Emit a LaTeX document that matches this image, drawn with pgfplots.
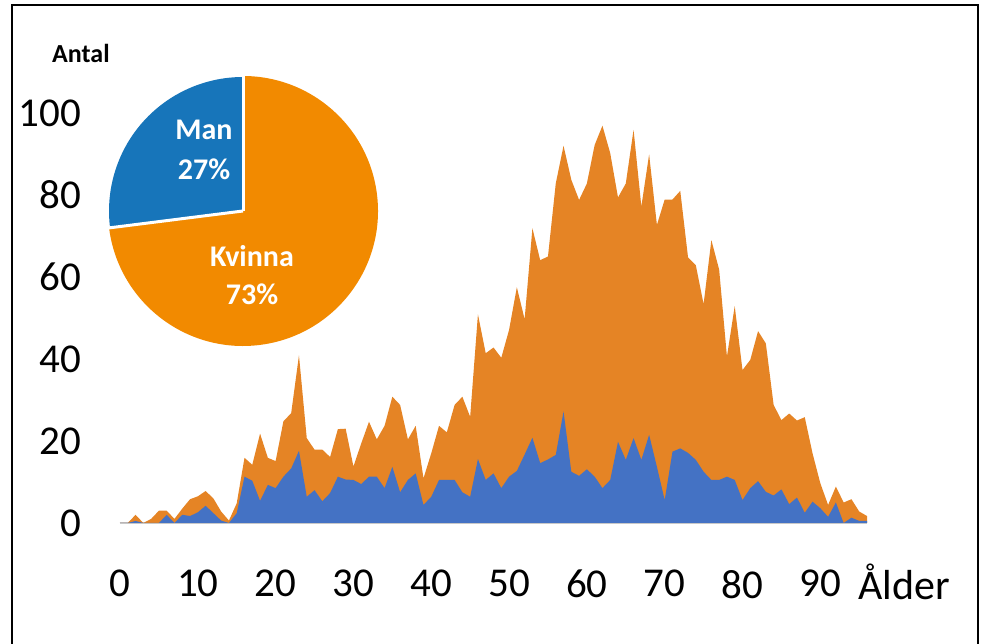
\documentclass[border=0pt]{standalone}
\usepackage{pgfplots}
\pgfplotsset{compat=1.18}
\usepackage{pgfplotstable}
\usepackage{fontspec}
\setmainfont{Carlito}
\definecolor{areaOrange}{RGB}{229,132,37}
\definecolor{areaBlue}{RGB}{68,114,196}
\definecolor{pieOrange}{RGB}{242,138,0}
\definecolor{pieBlue}{RGB}{23,117,186}
\definecolor{axisGray}{RGB}{200,200,200}
\pgfplotstableread{
age man total
0 0 0
1 0 0
2 0.5 2
3 0 0
4 0 1
5 0 3
6 2 3
7 0 1
8 2 3.5
9 1.7 5.8
10 2.6 6.5
11 4.2 7.8
12 2.4 6
13 0.6 2.8
14 0 0.6
15 2.4 4.8
16 11.3 15.9
17 10.3 14.2
18 5.4 21.8
19 9.3 15.9
20 8.5 15.1
21 11.3 24.8
22 13.3 26.8
23 17.6 40.9
24 6.4 20.7
25 8 17.9
26 5.3 17.9
27 7.3 16.1
28 11.3 22.9
29 10.6 23
30 10.5 13.8
31 9.5 19.4
32 11.3 24.7
33 11.3 20.4
34 8.5 23.7
35 13.7 30.8
36 7.5 28.8
37 10.5 20.4
38 12.1 23.7
39 4.4 10.9
40 6.4 17
41 10.5 23.7
42 10.5 22.1
43 10.5 28.8
44 7.5 30.8
45 6.4 25.9
46 15.6 50.9
47 10.5 41.4
48 12.1 42.8
49 8.5 40.3
50 11.3 47.1
51 12.7 57.5
52 16.7 49.7
53 20.8 71.9
54 14.6 64.1
55 15.5 65
56 16.6 82.8
57 27.2 92
58 12.5 83.7
59 11.5 78.8
60 13.1 82.8
61 11.3 92.2
62 8.5 96.9
63 10.5 90.2
64 19.8 79.4
65 15.4 82.8
66 20.7 95.9
67 15.4 77.2
68 21.5 89.9
69 13.7 72.7
70 5.6 78.9
71 17.4 78.9
72 18.2 81
73 17.1 64.8
74 15.4 62.9
75 12.5 53.4
76 10.5 69
77 10.5 61.8
78 11.3 40.6
79 10.5 52.9
80 5.6 37.3
81 8.5 39.8
82 10.2 46.8
83 7.6 43.8
84 6.7 28.8
85 8.2 25.1
86 4.6 26.7
87 6.2 25
88 2.5 25.8
89 5.2 17
90 3.6 9.7
91 1.5 4.4
92 5 8.9
93 0 5
94 1.3 5.8
95 0.5 2.8
96 0.5 1.7
}\agedata
\def\manpct{27}
\def\kvinnapct{73}
\begin{document}
\begin{tikzpicture}[x=1pt,y=1pt]
\useasboundingbox (0,0) rectangle (981,644);
\draw[line width=1.5pt] (12,0) -- (12,639) -- (978,639) -- (978,0);
\begin{axis}[
  at={(120pt,121pt)}, anchor=south west,
  scale only axis, width=747pt, height=410pt,
  xmin=0, xmax=96, ymin=0, ymax=100,
  axis x line*=bottom, axis y line*=left,
  y axis line style={draw=none},
  x axis line style={draw=axisGray, line width=2.5pt, -},
  xtick={0,10,...,90}, ytick={0,20,...,100},
  major tick length=0pt,
  /pgf/number format/assume math mode=true,
  tick label style={font=\fontsize{41}{48}\selectfont},
  yticklabel style={anchor=east, inner sep=0pt, xshift=-39pt},
  xticklabel style={anchor=north, inner sep=0pt, yshift=-47pt},
]
\addplot[fill=areaOrange, draw=none] table[x=age, y=total] {\agedata} \closedcycle;
\addplot[fill=areaBlue, draw=none] table[x=age, y=man] {\agedata} \closedcycle;
\end{axis}
% pie chart
\pgfmathsetmacro{\manangle}{90+3.6*\manpct}
\fill[pieOrange] (243,433) -- ++(\manangle:135) arc[start angle=\manangle, end angle=450, radius=135] -- cycle;
\fill[pieBlue] (243,433) -- ++(90:134) arc[start angle=90, end angle=\manangle, radius=134] -- cycle;
\draw[white, line width=3pt] (243,433) -- ++(90:137);
\draw[white, line width=3pt] (243,433) -- ++(\manangle:137);
\node[white, anchor=base, font=\bfseries\fontsize{30}{36}\selectfont] at (204,504) {Man};
\node[white, anchor=base, font=\bfseries\fontsize{30}{36}\selectfont] at (204,464) {\manpct\%};
\node[white, anchor=base, font=\bfseries\fontsize{30}{36}\selectfont] at (252,377) {Kvinna};
\node[white, anchor=base, font=\bfseries\fontsize{30}{36}\selectfont] at (252,339) {\kvinnapct\%};
\node[anchor=base west, inner sep=0pt, font=\bfseries\fontsize{26}{30}\selectfont] at (52,581) {Antal};
\node[anchor=base west, inner sep=0pt, font=\fontsize{42}{50}\selectfont] at (858,44) {Ålder};
\end{tikzpicture}
\end{document}
